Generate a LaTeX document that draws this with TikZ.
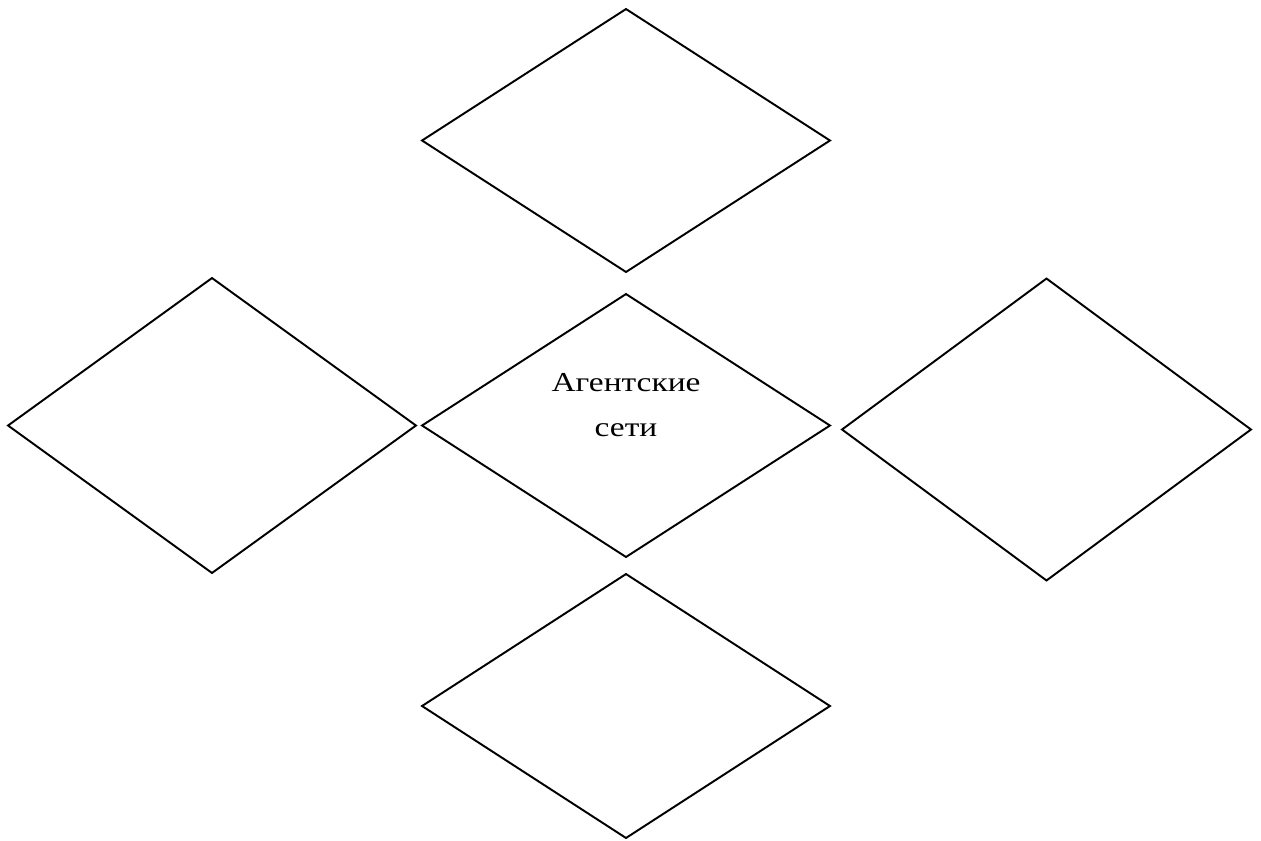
\documentclass[tikz,border=0pt]{standalone}
\usepackage{fontspec}
\setmainfont{Liberation Serif}
\newfontfamily\agfont[FakeStretch=1.22]{Liberation Serif}
\usepackage{tikz}
\usetikzlibrary{shapes.geometric}

\begin{document}
\begin{tikzpicture}[x=0.02cm,y=-0.02cm]
		\tikzset{rhomb/.style={diamond,draw,line width=1.1pt,inner sep=0pt,outer sep=0pt,minimum width=#1}};
		\useasboundingbox (0,0) rectangle (1261,840);
		\node[rhomb=8.16cm,minimum height=5.26cm] (upper) at (626,140.5) {};
		\node[rhomb=8.16cm,minimum height=5.26cm] (middle) at (626,425.5) {};
		\node[rhomb=8.16cm,minimum height=5.9cm] (west) at (212,425.5) {};
		\node[rhomb=8.18cm,minimum height=6.04cm] (east) at (1046.5,429.5) {};
		\node[rhomb=8.16cm,minimum height=5.28cm] (lower) at (626,706) {};
		
		\node[align=center,font=\agfont\fontsize{15.6}{25.6}\selectfont] (agnet) at ([yshift=0.4cm]middle.center) {Агентские\\сети};
	\end{tikzpicture}
\end{document}
